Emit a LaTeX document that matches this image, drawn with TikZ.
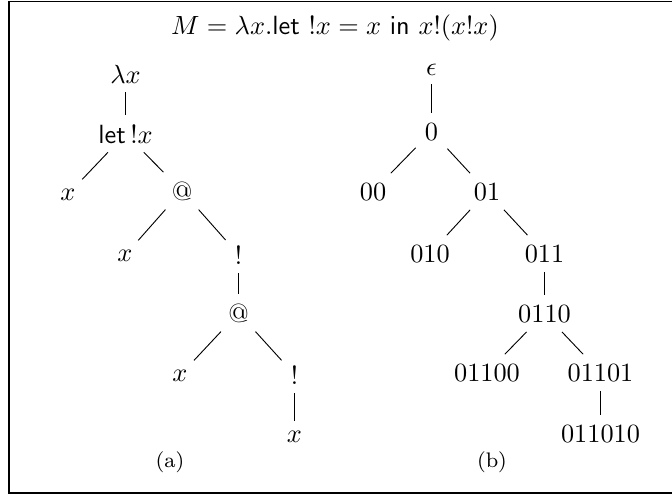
\documentclass[tikz,border=0pt]{standalone}
\begin{document}
\begin{tikzpicture}[x=0.38pt,y=-0.38pt,
  tn/.style={anchor=base},
  lab/.style={font=\footnotesize},
  tedge/.style={draw, line width=0.35pt},
  frame/.style={draw, line width=0.6pt}]
\useasboundingbox (0,0) rectangle (672,495);
\begin{scope}
\clip (0,0) rectangle (672,495);
\draw[frame] (9,1.5) rectangle (690,493);
\end{scope}
\node[tn] (title) at (335,34) {$M=\lambda x.\mathsf{let}\ !x = x\ \mathsf{in}\ x!(x!x)$};
% left tree
\node[tn] (lam) at (125.5,83) {$\lambda x$};
\node[tn] (let) at (125.5,143) {$\mathsf{let}\,!x$};
\node[tn] (x1) at (68,200) {$x$};
\node[tn] (at1) at (182,200) {@};
\node[tn] (x2) at (125,261) {$x$};
\node[tn] (b1) at (238.5,264) {!};
\node[tn] (at2) at (238.5,322) {@};
\node[tn] (x3) at (180,381) {$x$};
\node[tn] (b2) at (294.5,384) {!};
\node[tn] (x4) at (294.5,442) {$x$};
\node[lab] (la) at (170,462) {(a)};
\path[tedge] (lam) -- (let);
\path[tedge] (let) -- (x1);
\path[tedge] (let) -- (at1);
\path[tedge] (at1) -- (x2);
\path[tedge] (at1) -- (b1);
\path[tedge] (b1) -- (at2);
\path[tedge] (at2) -- (x3);
\path[tedge] (at2) -- (b2);
\path[tedge] (b2) -- (x4);
% right tree
\node[tn] (eps) at (431.5,75) {$\epsilon$};
\node[tn] (r0) at (431.5,140) {0};
\node[tn] (r00) at (373,200) {00};
\node[tn] (r01) at (487,200) {01};
\node[tn] (r010) at (430,262) {010};
\node[tn] (r011) at (544.5,262) {011};
\node[tn] (r0110) at (544.5,322) {0110};
\node[tn] (r01100) at (487,381) {01100};
\node[tn] (r01101) at (600.5,381) {01101};
\node[tn] (r011010) at (600.5,442) {011010};
\node[lab] (lb) at (492,462) {(b)};
\path[tedge] (eps) -- (r0);
\path[tedge] (r0) -- (r00);
\path[tedge] (r0) -- (r01);
\path[tedge] (r01) -- (r010);
\path[tedge] (r01) -- (r011);
\path[tedge] (r011) -- (r0110);
\path[tedge] (r0110) -- (r01100);
\path[tedge] (r0110) -- (r01101);
\path[tedge] (r01101) -- (r011010);
\end{tikzpicture}
\end{document}
